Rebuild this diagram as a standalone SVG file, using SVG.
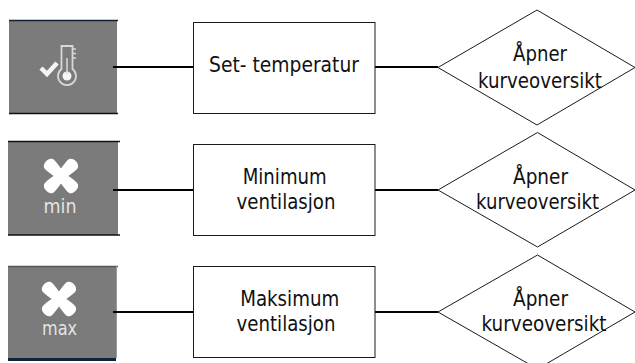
<svg xmlns="http://www.w3.org/2000/svg" width="635" height="363" viewBox="0 0 635 363">
<defs>
<path id="p" d="M0-4.500C5-5 11-6.500 16-6.500C22.500-6.500 22.500 6.500 16 6.500C11 6.500 5 5 0 4.500Z"/>
<g id="fan"><use href="#p" transform="rotate(45)"/><use href="#p" transform="rotate(135)"/><use href="#p" transform="rotate(225)"/><use href="#p" transform="rotate(315)"/></g>
</defs>
<style>
.bg{fill:#fff}
.ic{fill:#7b7b7b}
.box,.dia{fill:#fff;stroke:#1a1a1a;stroke-width:1}
.c{stroke:#000;stroke-width:2;fill:none}
.e{stroke:#111;stroke-width:1.5;fill:none}
text{font-family:"DejaVu Sans",sans-serif;font-size:20.500px;fill:#111;text-anchor:middle}
text.w{fill:#e4e4e4;font-size:19px}
</style>
<rect class="bg" width="635" height="363"/>
<g id="icon1">
<rect class="ic" x="9" y="21" width="108" height="92"/>
<path class="e" style="stroke:#102030" d="M9 20.500H118"/><path class="e" d="M9 113.500H118"/>
<path d="M41 68l6 6 10-11" fill="none" stroke="#f4f4f4" stroke-width="4.500"/>
<path d="M61.500 46h11v23a9 9 0 1 1-11 0z" fill="#7b7b7b" stroke="#d8d8d8" stroke-width="1.800"/>
<circle cx="67" cy="76" r="4.500" fill="#f5f5f5"/>
<path d="M67 58v16M73 49h3M73 53.500h3M73 58h3" stroke="#d8d8d8" stroke-width="1.500"/>
</g>
<g id="icon2">
<rect class="ic" x="8" y="142" width="110" height="93"/>
<path class="e" d="M8 141.500H120M8 235H120"/>
<use href="#fan" x="61" y="176" fill="#fff"/>
<text class="w" x="60" y="213" textLength="33" lengthAdjust="spacingAndGlyphs">min</text>
</g>
<g id="icon3">
<rect class="ic" x="8" y="266" width="108" height="92"/>
<path class="e" style="stroke:#555" d="M8 266.500H118"/><path d="M8 358h108v3H8z" fill="#0f2238"/>
<path d="M116.500 266V358" stroke="#999" fill="none"/>
<use href="#fan" x="59" y="299" fill="#fff"/>
<text class="w" x="59.500" y="335" textLength="35" lengthAdjust="spacingAndGlyphs">max</text>
</g>
<g id="connectors">
<path class="c" d="M113 67H193M375 67H438M113 190H193M375 190H438M113 312H193M375 312H438"/>
</g>
<g id="box1"><rect class="box" x="193.500" y="22.500" width="181.500" height="91"/><text x="284" y="72" textLength="150" lengthAdjust="spacingAndGlyphs">Set- temperatur</text></g>
<g id="box2"><rect class="box" x="193.500" y="144.500" width="181.500" height="91"/><text x="284.700" y="184" textLength="84" lengthAdjust="spacingAndGlyphs">Minimum</text><text x="286" y="209" textLength="99" lengthAdjust="spacingAndGlyphs">ventilasjon</text></g>
<g id="box3"><rect class="box" x="193.500" y="266.500" width="181.500" height="91"/><text x="289.700" y="306" textLength="99" lengthAdjust="spacingAndGlyphs">Maksimum</text><text x="286" y="331" textLength="99" lengthAdjust="spacingAndGlyphs">ventilasjon</text></g>
<g id="dia1"><path class="dia" d="M438 67.500L537 10L635 67.500L537 125Z"/><text x="540" y="61" textLength="54" lengthAdjust="spacingAndGlyphs">Åpner</text><text x="540" y="88" textLength="124" lengthAdjust="spacingAndGlyphs">kurveoversikt</text></g>
<g id="dia2"><path class="dia" d="M438 190L537.500 132.500L635 190L537.500 247Z"/><text x="540.500" y="184" textLength="55" lengthAdjust="spacingAndGlyphs">Åpner</text><text x="537.500" y="209" textLength="123" lengthAdjust="spacingAndGlyphs">kurveoversikt</text></g>
<g id="dia3"><path class="dia" d="M438 312L537.500 255L635 312L537.500 369Z"/><text x="540.500" y="306" textLength="55" lengthAdjust="spacingAndGlyphs">Åpner</text><text x="544" y="331" textLength="125" lengthAdjust="spacingAndGlyphs">kurveoversikt</text></g>
</svg>
